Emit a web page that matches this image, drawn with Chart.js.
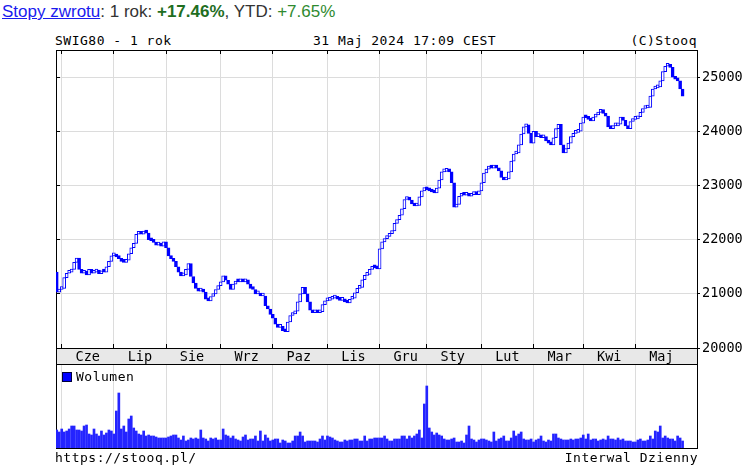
<!DOCTYPE html>
<html>
<head>
<meta charset="utf-8">
<script src="https://cdn.jsdelivr.net/npm/chart.js@4.4.1/dist/chart.umd.min.js"></script>
<style>
  body { margin: 0; background: #fff; }
  #wrap { position: relative; width: 746px; height: 469px; overflow: hidden; }
  #wrap canvas { position: absolute; left: 0; top: 0; }
  .mono { position: absolute; font: 13px 'DejaVu Sans Mono', monospace; letter-spacing: 0.5px; line-height: 16px; color: #000; white-space: nowrap; }
  #hdr { position: absolute; left: 2px; top: 2px; font: 17px 'Liberation Sans', Arial, sans-serif; line-height: 19px; color: #333; white-space: nowrap; }
  #hdr a { color: #1a1aee; text-decoration: underline; }
  #hdr .g1 { color: #1f6e1f; font-weight: bold; }
  #hdr .g2 { color: #2f8a2f; }
  #band { position: absolute; left: 56px; top: 349px; width: 642px; height: 15px; box-sizing: border-box;
          background: #e8e8e8; border-left: 1px solid #000; border-right: 1px solid #000; }
  #legend { position: absolute; left: 62px; top: 369px; }
  #legend i { display: inline-block; width: 8px; height: 8px; background: #0000ff; border: 1px solid #00003a; vertical-align: -1px; margin-right: 4px; }
</style>
</head>
<body>
<div id="wrap">
  <div id="hdr"><a href="#">Stopy zwrotu</a>: 1 rok: <span class="g1">+17.46%</span>, YTD: <span class="g2">+7.65%</span></div>
  <div class="mono" style="left:55px;top:33px">SWIG80 - 1 rok</div>
  <div class="mono" style="left:313px;top:33px">31 Maj 2024 17:09 CEST</div>
  <div class="mono" style="right:49px;top:33px">(C)Stooq</div>
  <div id="band"></div>
  <canvas id="price" width="746" height="469"></canvas>
  <canvas id="vol" width="746" height="469"></canvas>
  <div class="mono" id="legend"><i></i>Wolumen</div>
  <div class="mono" style="left:55px;top:450px">https://stooq.pl/</div>
  <div class="mono" style="right:48px;top:450px">Interwal Dzienny</div>
</div>
<script>
// month axis: index of first session of each month, label of that month
const monthLabels = ['Cze', 'Lip', 'Sie', 'Wrz', 'Paz', 'Lis', 'Gru', 'Sty', 'Lut', 'Mar', 'Kwi', 'Maj'];
const monthStarts = [2, 23, 44, 66, 87, 109, 130, 149, 171, 192, 212, 233];
const priceTicks = [20000, 21000, 22000, 23000, 24000, 25000];

// daily closes of sWIG80, 30.05.2023 - 31.05.2024
const firstOpen = 21400;
const closes = [
  21030, 21080, 21100, 21300, 21380, 21400, 21450, 21580, 21660, 21450,
  21380, 21420, 21350, 21450, 21380, 21400, 21440, 21370, 21420, 21400,
  21500, 21600, 21700, 21720, 21680, 21650, 21600, 21580, 21620, 21740,
  21850, 21930, 22100, 22130, 22100, 22160, 22120, 22000, 21980, 21950,
  21900, 21920, 21880, 21960, 21850, 21700, 21650, 21600, 21500, 21400,
  21330, 21350, 21450, 21560, 21320, 21200, 21100, 21050, 21060, 21030,
  20900, 20870, 20950, 21000, 21080, 21150, 21220, 21330, 21250, 21180,
  21080, 21180, 21230, 21220, 21240, 21220, 21260, 21180, 21100, 21080,
  21000, 21010, 20960, 20960, 20780, 20720, 20620, 20550, 20440, 20380,
  20400, 20320, 20300, 20480, 20600, 20630, 20680, 20850, 21000, 21120,
  21000, 20850, 20700, 20650, 20680, 20650, 20670, 20800, 20870, 20880,
  20900, 20920, 20950, 20900, 20880, 20900, 20850, 20830, 20900, 20920,
  21020, 21100, 21120, 21260, 21340, 21360, 21450, 21500, 21480, 21460,
  21830, 21960, 22020, 22060, 22110, 22160, 22300, 22370, 22450, 22570,
  22740, 22760, 22730, 22660, 22620, 22630, 22790, 22900, 22960, 22920,
  22900, 22880, 22860, 22950, 23100, 23250, 23260, 23300, 23250, 23050,
  22600, 22650, 22800, 22830, 22820, 22850, 22800, 22830, 22850, 22830,
  22900, 23050, 23230, 23300, 23330, 23320, 23340, 23320, 23270, 23150,
  23100, 23120, 23250, 23450, 23580, 23600, 23750, 23950, 24080, 24120,
  23960, 23780, 24000, 23900, 23920, 23880, 23900, 23820, 23780, 23750,
  23880, 24050, 24130, 23750, 23600, 23680, 23780, 23900, 23960, 23980,
  24000, 24150, 24260, 24250, 24220, 24190, 24260, 24300, 24350, 24400,
  24330, 24280, 24080, 24050, 24100, 24100, 24130, 24260, 24200, 24100,
  24050, 24180, 24220, 24230, 24270, 24350, 24420, 24430, 24440, 24650,
  24780, 24800, 24820, 24930, 25100, 25200, 25230, 25180, 25000, 24960,
  24930, 24780, 24650
];

// daily volume, relative units (panel full height = 84)
const volumeMax = 84;
const volumes = [
  18, 16, 19, 16, 17, 19, 22, 22, 18, 18,
  17, 22, 23, 14, 13, 19, 14, 12, 17, 13,
  15, 18, 17, 14, 37, 55, 19, 22, 16, 29,
  32, 20, 17, 14, 13, 17, 12, 13, 12, 12,
  11, 10, 10, 10, 10, 11, 12, 13, 13, 10,
  8, 12, 7, 8, 10, 9, 10, 9, 18, 10,
  9, 7, 10, 9, 10, 8, 8, 19, 13, 12,
  10, 12, 9, 8, 7, 11, 13, 8, 9, 9,
  12, 7, 17, 7, 13, 10, 7, 8, 9, 9,
  5, 8, 7, 5, 5, 7, 12, 12, 16, 12,
  6, 7, 7, 7, 7, 6, 9, 12, 8, 12,
  11, 10, 8, 7, 6, 6, 8, 7, 8, 8,
  9, 9, 7, 7, 12, 7, 9, 9, 10, 10,
  10, 10, 12, 9, 7, 7, 9, 9, 9, 12,
  12, 9, 12, 10, 12, 14, 18, 10, 44, 62,
  20, 16, 13, 15, 13, 12, 9, 8, 8, 9,
  10, 6, 6, 7, 5, 13, 22, 9, 8, 6,
  8, 9, 9, 8, 7, 6, 16, 7, 9, 10,
  12, 7, 7, 10, 17, 12, 14, 16, 9, 8,
  8, 9, 6, 8, 9, 12, 7, 6, 8, 7,
  14, 14, 10, 9, 8, 8, 8, 9, 8, 9,
  9, 10, 13, 9, 14, 8, 9, 9, 7, 8,
  9, 8, 12, 9, 9, 8, 10, 8, 9, 7,
  7, 7, 6, 6, 8, 9, 7, 7, 8, 12,
  9, 17, 16, 22, 10, 12, 10, 9, 9, 7,
  12, 10, 7
];

const opens = closes.map((c, i) => i === 0 ? firstOpen : closes[i - 1]);

const xMin = -0.3;
const xMax = 257.8;
const blue = '#0000ff';
const gridGray = '#dcdcdc';
const mono = { family: 'DejaVu Sans Mono', size: 13.5 };

const setMonthTicks = axis => { axis.ticks = monthStarts.map(v => ({ value: v })); };
const setPriceTicks = axis => { axis.ticks = priceTicks.map(v => ({ value: v })); };

// price panel: candle bodies as floating bars
new Chart(document.getElementById('price'), {
  type: 'bar',
  data: {
    datasets: [{
      data: closes.map((c, i) => ({ x: i, y: [opens[i], c] })),
      backgroundColor: closes.map((c, i) => c >= opens[i] ? '#ffffff' : blue),
      borderColor: blue,
      borderWidth: 1,
      borderSkipped: false,
      barThickness: 3,
      minBarLength: 3,
      xAxisID: 'x',
      yAxisID: 'y'
    }]
  },
  options: {
    responsive: false,
    animation: false,
    events: [],
    layout: { padding: { left: 56, top: 50, right: 0, bottom: 105 } },
    plugins: { legend: { display: false }, tooltip: { enabled: false } },
    scales: {
      x: {
        type: 'linear', position: 'bottom', min: xMin, max: xMax, offset: false,
        afterBuildTicks: setMonthTicks,
        afterFit: a => { a.height = 16; },
        grid: { color: gridGray, offset: false, tickLength: -4, tickColor: '#000' },
        border: { color: '#000' },
        ticks: {
          autoSkip: false, maxRotation: 0, padding: 5, labelOffset: 26,
          color: '#000', font: mono,
          callback: (v, i) => monthLabels[i]
        }
      },
      xt: {
        type: 'linear', position: 'top', min: xMin, max: xMax, offset: false,
        afterBuildTicks: setMonthTicks,
        afterFit: a => { a.height = 0; },
        grid: { drawOnChartArea: false, offset: false, tickLength: -4, tickColor: '#000' },
        border: { color: '#000' },
        ticks: { display: false }
      },
      y: {
        type: 'linear', position: 'right', min: 20000, max: 25500,
        afterBuildTicks: setPriceTicks,
        afterFit: a => { a.width = 49; },
        grid: { color: gridGray, tickLength: 3, tickColor: '#000' },
        border: { color: '#000' },
        ticks: { padding: 2, color: '#000', font: mono, callback: v => String(v) }
      },
      yl: {
        type: 'linear', position: 'left', min: 20000, max: 25500,
        afterBuildTicks: setPriceTicks,
        afterFit: a => { a.width = 0; },
        grid: { drawOnChartArea: false, tickLength: -4, tickColor: '#000' },
        border: { color: '#000' },
        ticks: { display: false }
      }
    }
  }
});

// volume panel
new Chart(document.getElementById('vol'), {
  type: 'bar',
  data: {
    datasets: [{
      data: volumes.map((v, i) => ({ x: i, y: v })),
      backgroundColor: '#2424ff',
      borderWidth: 0,
      barThickness: 2,
      xAxisID: 'x',
      yAxisID: 'y'
    }]
  },
  options: {
    responsive: false,
    animation: false,
    events: [],
    layout: { padding: { left: 56, top: 364, right: 49, bottom: 21 } },
    plugins: { legend: { display: false }, tooltip: { enabled: false } },
    scales: {
      x: {
        type: 'linear', position: 'bottom', min: xMin, max: xMax, offset: false,
        afterBuildTicks: setMonthTicks,
        afterFit: a => { a.height = 0; },
        grid: { color: gridGray, offset: false, drawTicks: false },
        border: { color: '#000' },
        ticks: { display: false }
      },
      xt: {
        type: 'linear', position: 'top', min: xMin, max: xMax, offset: false,
        afterFit: a => { a.height = 0; },
        grid: { display: false },
        border: { color: '#000' },
        ticks: { display: false }
      },
      y: {
        type: 'linear', position: 'left', min: 0, max: volumeMax,
        afterFit: a => { a.width = 0; },
        grid: { display: false },
        border: { color: '#000' },
        ticks: { display: false }
      },
      yr: {
        type: 'linear', position: 'right', min: 0, max: volumeMax,
        afterFit: a => { a.width = 0; },
        grid: { display: false },
        border: { color: '#000' },
        ticks: { display: false }
      }
    }
  }
});
</script>
</body>
</html>
